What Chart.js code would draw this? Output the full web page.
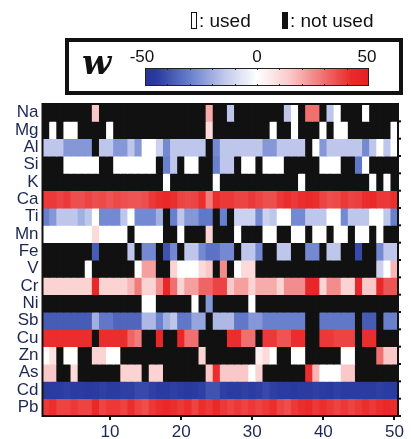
<!DOCTYPE html>
<html>
<head>
<meta charset="utf-8">
<script src="https://cdn.jsdelivr.net/npm/chart.js@4"></script>
<style>
  body { margin: 0; background: #fff; font-family: 'Liberation Sans', Arial, sans-serif; color: #111; }
  #wrap { position: relative; width: 411px; height: 439px; overflow: hidden; }
  #c { position: absolute; left: 0; top: 0; }
  .abs { position: absolute; white-space: nowrap; }
  .txt { font-size: 19px; line-height: 19px; }
  #openBox { left: 191px; top: 12px; width: 6px; height: 17px; border: 1.6px solid #111; box-sizing: border-box; }
  #fillBox { left: 282px; top: 12px; width: 6px; height: 17px; background: #111; }
  #legendBox { left: 65px; top: 38px; width: 338px; height: 57px; border: 4px solid #111; box-sizing: border-box; }
  #wSym { left: 82px; top: 45px; font: italic bold 34px 'DejaVu Serif', serif; line-height: 34px; }
  #bar { left: 145px; top: 68px; width: 224px; height: 18px; border: 1px solid #222; box-sizing: border-box; }
  .barLbl { font-size: 17px; line-height: 17px; top: 48px; transform: translateX(-50%); }
  .barTick { width: 1px; height: 2px; background: #222; }
</style>
</head>
<body>
<div id="wrap">
  <canvas id="c" width="411" height="439"></canvas>
  <span id="openBox" class="abs"></span>
  <span class="abs txt" style="left:199px;top:11px">: used</span>
  <span id="fillBox" class="abs"></span>
  <span class="abs txt" style="left:290px;top:11px">: not used</span>
  <div id="legendBox" class="abs"></div>
  <span id="wSym" class="abs">w</span>
  <div id="bar" class="abs"></div>
</div>
<script>
// null = element not used (black cell)
const B = null;

const elements = ['Na', 'Mg', 'Al', 'Si', 'K', 'Ca', 'Ti', 'Mn', 'Fe', 'V', 'Cr', 'Ni', 'Sb', 'Cu', 'Zn', 'As', 'Cd', 'Pb'];
const xTickLabels = ['10', '20', '30', '40', '50'];
const barLabels = ['-50', '0', '50'];
const wMin = -50, wMax = 50;

const Na = [B,B,B,B,B,B,B,15,B,B, B,B,B,B,B,B,B,B,B,B, B,B,B,20,B,B,-15,B,B,B, B,B,B,B,-15,0,B,30,30,B, -15,0,B,B,B,0,B,B,B,B];
const Mg = [B,0,B,0,0,B,B,B,B,0, B,B,B,B,B,B,B,B,B,B, B,B,B,10,B,B,B,B,B,B, B,B,0,B,B,0,B,B,B,0, B,0,0,B,B,B,B,B,B,0];
const Al = [-15,-15,-15,-25,-25,-25,-25,B,-15,-15, -25,-25,-15,-25,0,0,-12,-28,-15,-15, -15,-15,-15,B,-28,-15,-15,-15,-15,-15, -15,-25,-25,-15,-15,-15,-15,B,0,-25, -15,-15,-15,-15,-15,-28,-15,0,-15,0];
const Si = [B,B,B,0,0,0,0,0,B,B, 0,0,0,0,0,0,B,-30,-15,B, 0,0,B,B,-30,-15,-15,B,0,0, B,0,0,0,B,B,B,B,B,0, 0,0,B,B,-32,0,B,B,B,B];
const K  = [B,B,B,B,B,B,B,B,B,B, B,B,B,B,B,B,B,0,B,B, B,B,B,B,0,B,B,B,B,B, B,B,B,B,B,B,0,B,B,B, B,B,B,B,B,B,0,B,0,B];
const Ca = [40,40,38,40,36,36,38,36,37,35, 37,36,35,35,36,40,42,44,42,38, 37,38,42,28,42,40,40,38,38,40, 38,36,36,40,42,40,42,44,42,38, 36,37,40,38,39,42,44,40,40,42];
const Ti = [-30,-25,-15,-15,-15,-20,-15,0,-28,-28, -28,-15,0,-28,-28,-28,-20,B,-30,-15, -25,-25,-32,-32,B,-30,B,-12,-12,-12, -28,-12,-15,0,0,-28,-28,-15,-15,-15, 0,0,-28,-15,-15,-15,0,0,-15,-30];
const Mn = [0,0,0,0,0,0,0,10,0,0, 0,0,B,0,0,0,0,B,B,0, B,B,B,12,B,B,B,0,B,B, B,0,0,B,B,0,0,B,0,0, B,0,0,B,0,0,B,0,B,B];
const Fe = [B,B,B,B,B,B,B,-38,B,B, B,B,-15,B,-28,-28,B,-40,-28,B, -15,-15,-28,-33,-33,-28,-28,B,-15,-15, -28,B,B,-15,-15,B,B,-28,-28,B, -15,-15,B,B,-42,B,B,-28,-15,-15];
const V  = [B,B,B,B,B,B,0,B,B,B, B,B,B,0,22,22,B,B,12,0, 0,0,10,15,B,25,B,0,10,10, B,B,B,B,B,B,B,B,B,B, B,B,B,B,B,B,B,-12,0,18];
const Cr = [12,12,12,12,12,12,12,45,12,12, 12,12,18,28,12,12,25,45,30,12, 22,22,32,32,38,38,15,22,22,12, 20,20,20,12,25,25,25,45,45,12, 25,25,12,12,45,15,15,45,35,35];
const Ni = [B,B,B,B,B,B,B,B,B,B, B,B,B,B,0,0,B,B,B,B, B,0,B,-25,B,B,B,B,B,0, B,B,B,B,B,B,B,B,B,B, B,B,B,B,B,B,B,B,B,B];
const Sb = [-38,-38,-38,-38,-38,-38,-38,-20,-32,-32, -36,-36,-36,-36,-18,-18,-30,-20,-15,-32, -32,-22,-22,B,-18,-18,-18,-32,-32,-25, -25,-30,-30,-30,-30,-30,-30,B,B,-32, -32,-32,-32,-32,B,-38,-38,B,-30,-30];
const Cu = [42,42,42,42,42,42,42,B,42,42, 42,42,32,28,B,B,45,B,B,45, 30,30,B,B,B,B,42,42,30,30, B,40,40,35,35,42,42,B,B,40, 40,38,38,38,B,42,42,B,B,B];
const Zn = [0,8,B,0,0,B,B,12,12,0, 0,B,B,B,B,B,B,B,B,B, B,B,12,B,B,B,B,B,B,B, 5,10,0,B,B,0,0,B,B,B, B,B,0,0,B,B,B,30,15,15];
const As = [15,15,B,B,10,B,B,B,B,B, B,12,12,12,B,12,12,B,B,B, B,B,B,15,42,15,15,15,15,0, 12,B,B,B,B,B,B,42,18,0, 0,0,15,15,B,B,B,B,B,B];
const Cd = [-45,-45,-45,-44,-45,-45,-46,-45,-44,-45, -45,-44,-44,-42,-42,-44,-45,-45,-44,-45, -46,-45,-44,-40,-40,-44,-45,-45,-44,-45, -44,-42,-44,-45,-45,-46,-45,-45,-44,-45, -46,-44,-45,-45,-45,-45,-45,-44,-45,-45];
const Pb = [40,42,38,38,40,38,38,44,38,40, 40,38,42,38,36,40,42,44,42,40, 42,38,42,40,44,40,38,40,38,40, 38,40,42,38,36,40,42,44,40,42, 40,38,40,38,40,42,40,42,44,42];

const rows = [Na, Mg, Al, Si, K, Ca, Ti, Mn, Fe, V, Cr, Ni, Sb, Cu, Zn, As, Cd, Pb];
const columns = Na.map((_, i) => String(i + 1));

// blue - white - red colour map for w
const blueStops = [[0, [255, 255, 255]], [0.3, [190, 198, 235]], [0.6, [105, 128, 205]], [0.9, [42, 60, 160]], [1, [38, 52, 150]]];
const redStops = [[0, [255, 255, 255]], [0.3, [250, 200, 200]], [0.6, [240, 112, 112]], [0.85, [234, 42, 42]], [1, [228, 32, 36]]];

function wColor(v) {
  if (v === null) return '#111';
  const t = Math.min(Math.abs(v) / wMax, 1);
  const stops = v < 0 ? blueStops : redStops;
  for (let i = 1; i < stops.length; i++) {
    if (t <= stops[i][0]) {
      const [t0, c0] = stops[i - 1], [t1, c1] = stops[i];
      const f = (t - t0) / (t1 - t0);
      const c = c0.map((a, k) => Math.round(a + (c1[k] - a) * f));
      return `rgb(${c[0]},${c[1]},${c[2]})`;
    }
  }
  return '#000';
}

// colour bar in the legend box
const bar = document.getElementById('bar');
const grad = [];
for (let v = wMin; v <= wMax; v += 2.5) grad.push(wColor(v) + ' ' + ((v - wMin) / (wMax - wMin) * 100) + '%');
bar.style.background = 'linear-gradient(to right,' + grad.join(',') + ')';
const wrap = document.getElementById('wrap');
const barLeft = 145, barWidth = 224;
barLabels.forEach(lbl => {
  const s = document.createElement('span');
  s.className = 'abs barLbl';
  s.textContent = lbl;
  const x = barLeft + (Number(lbl) - wMin) / (wMax - wMin) * barWidth;
  s.style.left = (x - (lbl === '-50' ? 3 : lbl === '50' ? 2 : 0)) + 'px';
  wrap.appendChild(s);
});
for (let k = 1; k < 10; k++) {
  [68, 84].forEach(y => {
    const t = document.createElement('span');
    t.className = 'abs barTick';
    t.style.left = (barLeft + k * barWidth / 10) + 'px';
    t.style.top = y + 'px';
    wrap.appendChild(t);
  });
}

const frame = {
  id: 'frame',
  afterDatasetsDraw(chart) {
    const { ctx, chartArea: a } = chart;
    ctx.save();
    ctx.strokeStyle = '#111';
    ctx.lineWidth = 2;
    ctx.strokeRect(a.left, a.top, a.right - a.left, a.bottom - a.top);
    // short marks on the right edge, one per row
    const y = chart.scales.y;
    ctx.lineWidth = 2;
    elements.forEach((_, i) => {
      const py = y.getPixelForValue(i + 0.5);
      ctx.beginPath();
      ctx.moveTo(a.right, py);
      ctx.lineTo(a.right + 3, py);
      ctx.stroke();
    });
    ctx.restore();
  }
};

const axisColor = '#1c2754';

new Chart(document.getElementById('c'), {
  type: 'bar',
  data: {
    labels: columns,
    datasets: rows.map((vals, r) => ({
      label: elements[r],
      data: vals.map(() => [r - 0.5, r + 0.5]),
      backgroundColor: vals.map(wColor),
      borderWidth: 0,
      inflateAmount: 0.4,
      grouped: false,
      barPercentage: 1,
      categoryPercentage: 1
    }))
  },
  options: {
    responsive: false,
    animation: false,
    layout: { padding: { left: 0, top: 104, right: 13, bottom: 0 } },
    plugins: { legend: { display: false }, tooltip: { enabled: false } },
    scales: {
      x: {
        offset: true,
        grid: {
          drawOnChartArea: false,
          offset: false,
          tickLength: 4,
          lineWidth: 2,
          color: c => xTickLabels.includes(columns[c.index]) ? '#111' : 'rgba(0,0,0,0)'
        },
        border: { display: false },
        ticks: {
          autoSkip: false,
          maxRotation: 0,
          padding: 2,
          color: axisColor,
          font: { family: 'Liberation Sans', size: 17 },
          callback: (v, i) => xTickLabels.includes(columns[i]) ? columns[i] : ''
        },
        afterFit: s => { s.height = 23; }
      },
      y: {
        min: -0.5,
        max: elements.length - 0.5,
        reverse: true,
        grid: { display: false, drawTicks: false },
        border: { display: false },
        afterBuildTicks: s => { s.ticks = elements.map((_, i) => ({ value: i })); },
        ticks: {
          autoSkip: false,
          padding: 4,
          color: axisColor,
          font: { family: 'Liberation Sans', size: 17 },
          callback: v => elements[v]
        },
        afterFit: s => { s.width = 42.5; }
      }
    }
  },
  plugins: [frame]
});
</script>
</body>
</html>
